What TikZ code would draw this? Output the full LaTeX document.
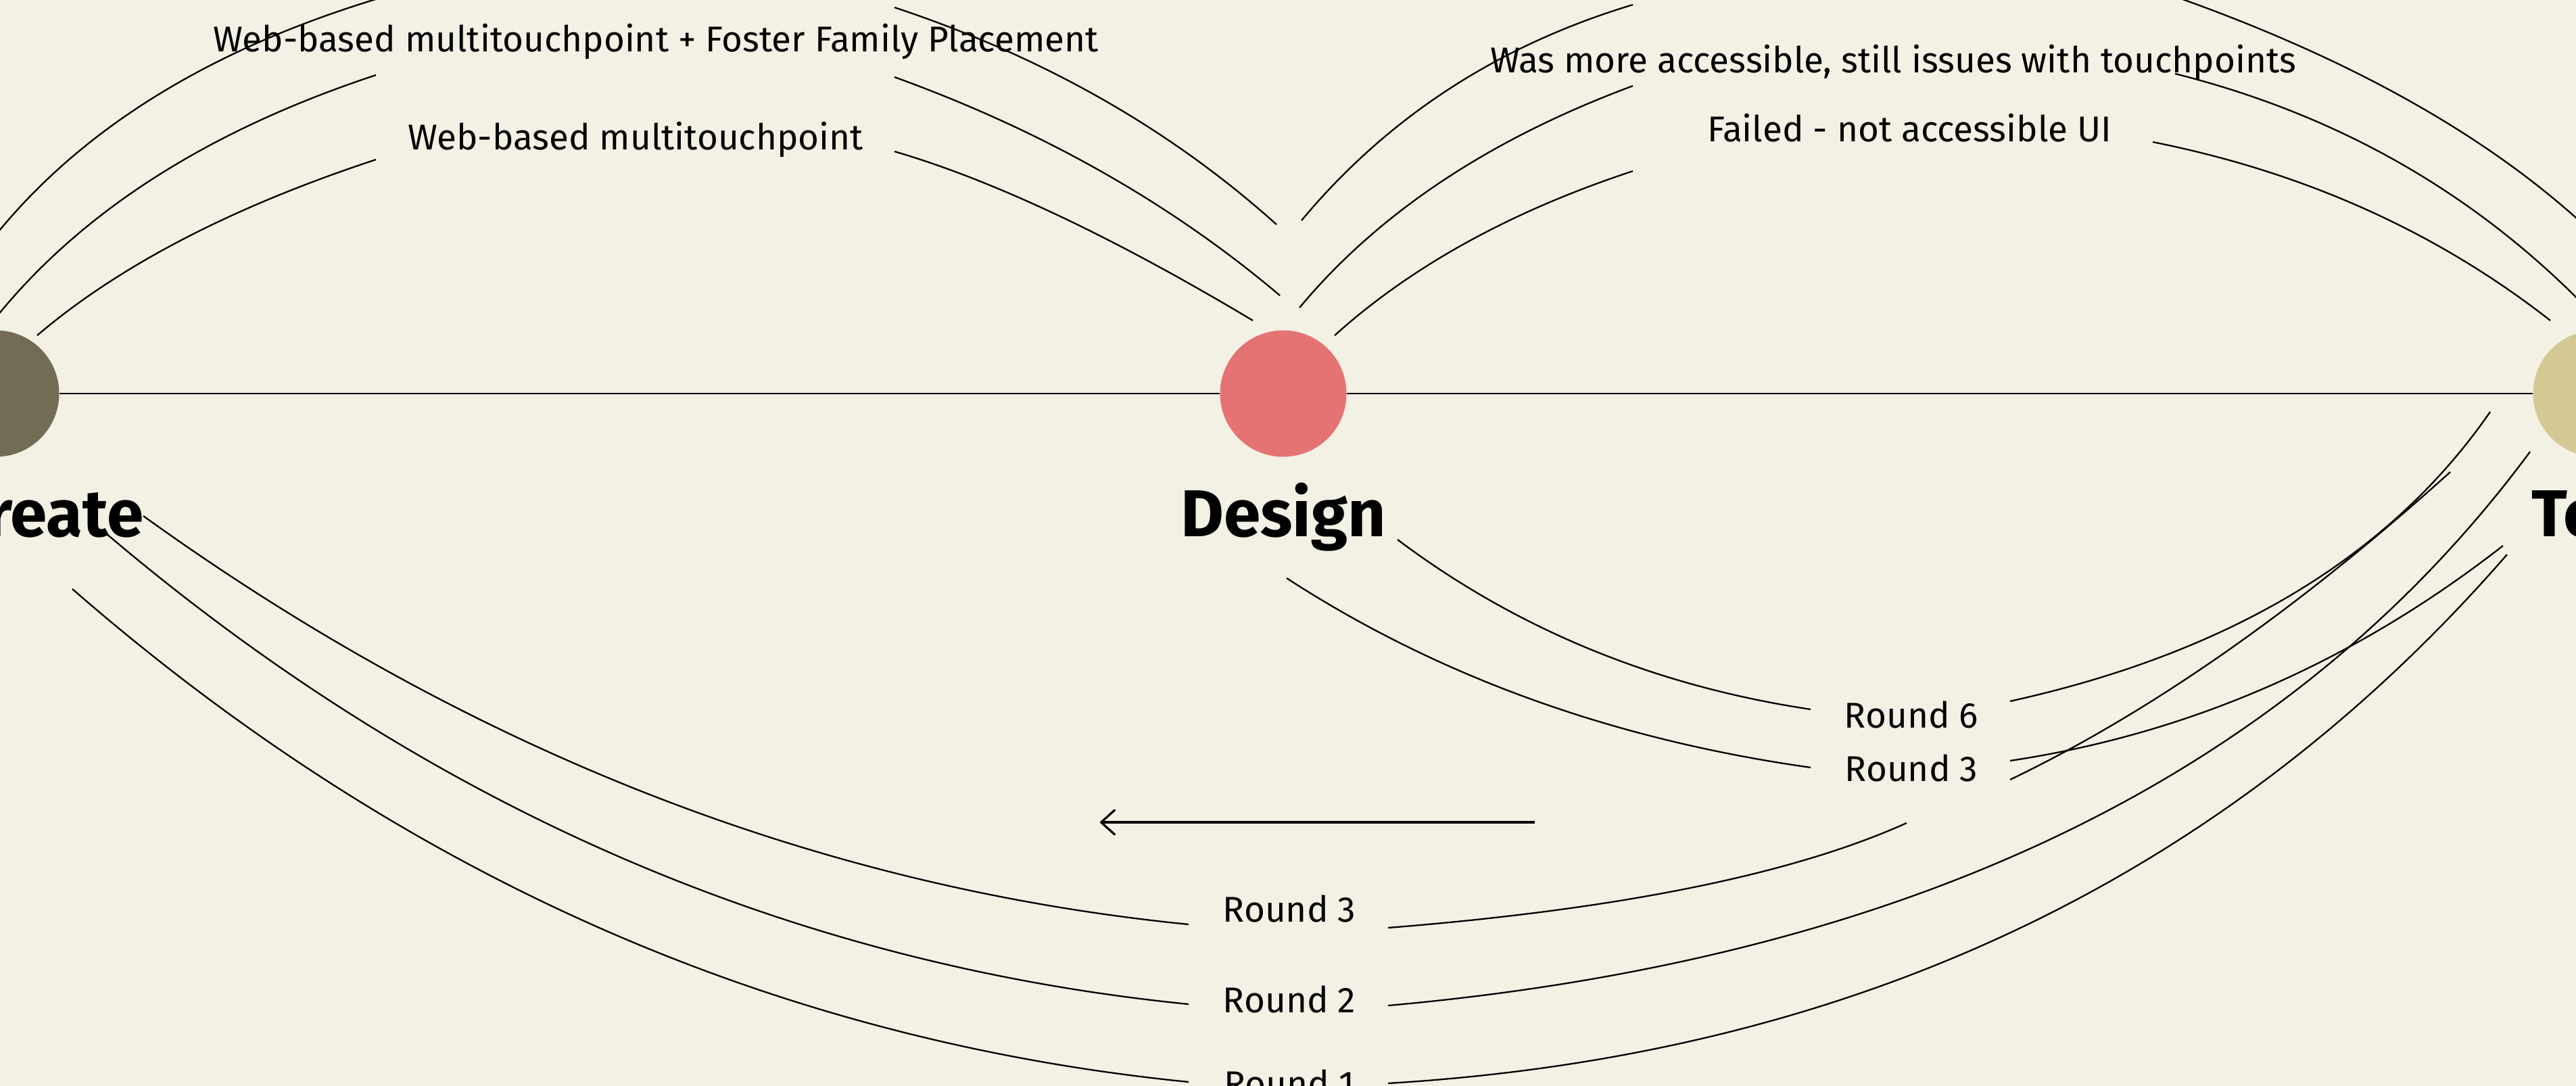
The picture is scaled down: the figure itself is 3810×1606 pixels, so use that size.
\documentclass[tikz,border=0pt]{standalone}
\usepackage{fontspec}
\setmainfont{Fira Sans}
\usetikzlibrary{calc,arrows.meta}
\definecolor{bg}{HTML}{F3F0E4}
\definecolor{createc}{HTML}{736C55}
\definecolor{designc}{HTML}{E57373}
\definecolor{testc}{HTML}{D4C994}
% quadratic-like arc from coordinate #1 to coordinate #3 with control point #2
\newcommand\qarc[3]{\draw[edge] (#1) .. controls ($(#1)!0.6667!(#2)$) and ($(#3)!0.6667!(#2)$) .. (#3);}
\begin{document}
\begin{tikzpicture}[x=1pt,y=-1pt,
  edge/.style={line width=2.3pt, black},
  axis/.style={line width=2.8pt, black},
  lbl/.style={font=\fontsize{53}{60}\selectfont, inner sep=0pt, anchor=base},
  stage/.style={font=\fontsize{98}{110}\selectfont\bfseries, inner sep=0pt},
  dot/.style={circle, minimum size=187pt, inner sep=0pt}]
\useasboundingbox (0,0) rectangle (3810,1606);
\fill[bg] (0,0) rectangle (3810,1606);
\clip (0,0) rectangle (3810,1606);

% stages
\node[dot, fill=createc] (create) at (-6,582) {};
\node[dot, fill=designc] (design) at (1898,582) {};
\node[dot, fill=testc] (test) at (3840,582) {};
\draw[axis] (create) -- (design);
\draw[axis] (design) -- (test);

\node[stage, anchor=base east] (createlbl) at (213,793) {Create};
\node[stage, anchor=base] (designlbl) at (1898,793) {Design};
\node[stage, anchor=base west] (testlbl) at (3744,793) {Test};

% edge labels
\node[lbl] (l1) at (970,76) {Web-based multitouchpoint + Foster Family Placement};
\node[lbl] (l2) at (940,221) {Web-based multitouchpoint};
\node[lbl] (l3) at (2800,107) {Was more accessible, still issues with touchpoints};
\node[lbl] (l4) at (2824,209) {Failed - not accessible UI};
\node[lbl] (r6) at (2827,1076) {Round 6};
\node[lbl] (r3a) at (2827,1155) {Round 3};
\node[lbl] (r3b) at (1907,1363) {Round 3};
\node[lbl] (r2) at (1907,1497) {Round 2};
\node[lbl] (r1) at (1907,1621) {Round 1};

% connector end points
\coordinate (a1s) at (-10,352);  \coordinate (a1e) at (562,-3);
\coordinate (a2s) at (1323,11);  \coordinate (a2e) at (1888,332);
\coordinate (b1s) at (-8,472);   \coordinate (b1e) at (556,111);
\coordinate (b2s) at (1323,114); \coordinate (b2e) at (1893,437);
\coordinate (c1s) at (55,496);   \coordinate (c1e) at (556,236);
\coordinate (c2s) at (1323,224); \coordinate (c2e) at (1853,474);
\coordinate (d1s) at (1925,326); \coordinate (d1e) at (2415,7);
\coordinate (d2s) at (3217,-5);  \coordinate (d2e) at (3835,345);
\coordinate (e1s) at (1922,455); \coordinate (e1e) at (2415,127);
\coordinate (e2s) at (3217,109); \coordinate (e2e) at (3835,465);
\coordinate (f1s) at (1974,496); \coordinate (f1e) at (2415,253);
\coordinate (f2s) at (3184,210); \coordinate (f2e) at (3772,474);
\coordinate (g1s) at (2067,798); \coordinate (g1e) at (2678,1049);
\coordinate (g2s) at (2973,1037);\coordinate (g2e) at (3683,609);
\coordinate (h1s) at (1903,855); \coordinate (h1e) at (2678,1135);
\coordinate (h2s) at (2973,1125);\coordinate (h2e) at (3702,807);
\coordinate (i1s) at (3624,698); \coordinate (i1e) at (2973,1153);
\coordinate (i2s) at (2820,1217);\coordinate (i2e) at (2053,1372);
\coordinate (i3s) at (1758,1367);\coordinate (i3e) at (212,763);
\coordinate (j1s) at (3742,668); \coordinate (j1e) at (2053,1487);
\coordinate (j2s) at (1758,1485);\coordinate (j2e) at (157,789);
\coordinate (k1s) at (3708,820); \coordinate (k1e) at (2053,1602);
\coordinate (k2s) at (1758,1600);\coordinate (k2e) at (107,871);

% Create -> Design (above)
\qarc{a1s}{183,111}{a1e}
\qarc{a2s}{1652,120}{a2e}
\qarc{b1s}{183,234}{b1e}
\qarc{b2s}{1652,233}{b2e}
\qarc{c1s}{237,341}{c1e}
\qarc{c2s}{1542,288}{c2e}
% Design -> Test (above)
\qarc{d1s}{2116,97}{d1e}
\qarc{d2s}{3613,135}{d2e}
\qarc{e1s}{2097,245}{e1e}
\qarc{e2s}{3583,201}{e2e}
\qarc{f1s}{2145,342}{f1e}
\qarc{f2s}{3520,277}{f2e}
% Design -> Test (below)
\qarc{g1s}{2332,997}{g1e}
\qarc{g2s}{3462,929}{g2e}
\qarc{h1s}{2239,1073}{h1e}
\qarc{h2s}{3371,1065}{h2e}
% Test -> Create (below)
\qarc{i1s}{3285,1003}{i1e}
\qarc{i2s}{2567,1331}{i2e}
\qarc{i3s}{937,1285}{i3e}
\qarc{j1s}{3213,1383}{j1e}
\qarc{j2s}{872,1396}{j2e}
\qarc{k1s}{3082,1540}{k1e}
\qarc{k2s}{839,1508}{k2e}

% direction arrow
\coordinate (arrs) at (2270,1216);
\coordinate (arre) at (1627,1216);
\draw[line width=3.2pt, -{Straight Barb[length=20pt,width=36pt,line cap=round,line join=round]}] (arrs) -- (arre);
\end{tikzpicture}
\end{document}
